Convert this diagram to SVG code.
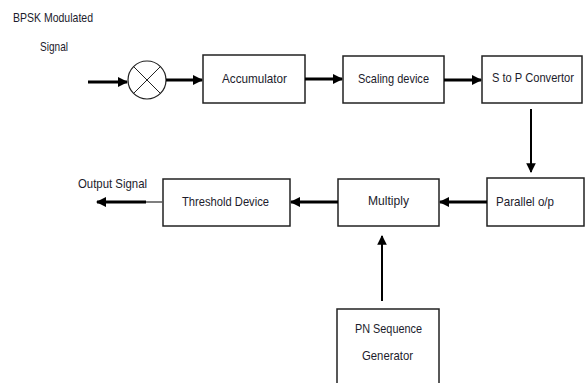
<svg xmlns="http://www.w3.org/2000/svg" width="586" height="383" viewBox="0 0 586 383">
  <defs>
    <marker id="ah" viewBox="0 0 10 10" refX="9" refY="5" markerWidth="3.4" markerHeight="3.4" markerUnits="strokeWidth" orient="auto">
      <path d="M0,0 L10,5 L0,10 Z" fill="#000"/>
    </marker>
    <marker id="ahv" viewBox="0 0 10 10" refX="9" refY="5" markerWidth="4.8" markerHeight="4.8" markerUnits="strokeWidth" orient="auto">
      <path d="M0,0 L10,5 L0,10 Z" fill="#000"/>
    </marker>
    <style>
      .box { fill: #fff; stroke: #222; stroke-width: 1.5; }
      .lbl { font-family: "Liberation Sans", Arial, sans-serif; font-size: 13px; fill: #1c1c2c; text-anchor: middle; }
      .sm { font-size: 12px; }
      .wire { stroke: #000; stroke-width: 3; fill: none; }
      .vwire { stroke: #000; stroke-width: 2; fill: none; }
    </style>
  </defs>
  <rect width="586" height="383" fill="#fff"/>

  <!-- input label -->
  <g id="input-label">
    <text class="lbl" x="53" y="22" textLength="80" lengthAdjust="spacingAndGlyphs">BPSK Modulated</text>
    <text class="lbl" x="54" y="51" textLength="28" lengthAdjust="spacingAndGlyphs">Signal</text>
  </g>

  <!-- mixer -->
  <g id="mixer">
    <circle cx="147" cy="80" r="19" fill="#fff" stroke="#222" stroke-width="1.2"/>
    <line x1="133.6" y1="66.6" x2="160.4" y2="93.4" stroke="#222" stroke-width="1"/>
    <line x1="160.4" y1="66.6" x2="133.6" y2="93.4" stroke="#222" stroke-width="1"/>
  </g>

  <g id="accumulator">
    <rect class="box" x="203" y="55" width="102" height="48"/>
    <text class="lbl" x="254.5" y="83" textLength="65" lengthAdjust="spacingAndGlyphs">Accumulator</text>
  </g>

  <g id="scaling">
    <rect class="box" x="343" y="56" width="101" height="47"/>
    <text class="lbl" x="393.5" y="83" textLength="71" lengthAdjust="spacingAndGlyphs">Scaling device</text>
  </g>

  <g id="s-to-p">
    <rect class="box" x="482" y="56" width="100" height="47"/>
    <text class="lbl sm" x="533" y="82" textLength="82" lengthAdjust="spacingAndGlyphs">S to P Convertor</text>
  </g>

  <g id="parallel">
    <rect class="box" x="487" y="178" width="97" height="48"/>
    <text class="lbl" x="525" y="206" textLength="58" lengthAdjust="spacingAndGlyphs">Parallel o/p</text>
  </g>

  <g id="multiply">
    <rect class="box" x="338" y="179" width="101" height="47"/>
    <text class="lbl" x="388.5" y="205" textLength="41" lengthAdjust="spacingAndGlyphs">Multiply</text>
  </g>

  <g id="threshold">
    <rect class="box" x="163" y="179" width="127" height="47"/>
    <text class="lbl" x="225.5" y="206" textLength="87" lengthAdjust="spacingAndGlyphs">Threshold Device</text>
  </g>

  <g id="pn-generator">
    <rect class="box" x="337" y="309" width="102" height="80"/>
    <text class="lbl" x="388.5" y="333" textLength="67" lengthAdjust="spacingAndGlyphs">PN Sequence</text>
    <text class="lbl" x="387.5" y="360" textLength="51" lengthAdjust="spacingAndGlyphs">Generator</text>
  </g>

  <g id="output-label">
    <text class="lbl" x="112.5" y="188" textLength="69" lengthAdjust="spacingAndGlyphs">Output Signal</text>
  </g>

  <!-- connectors -->
  <g id="connectors">
    <line class="wire" x1="88" y1="82" x2="127" y2="82" marker-end="url(#ah)"/>
    <line class="wire" x1="166" y1="80" x2="202" y2="80" marker-end="url(#ah)"/>
    <line class="wire" x1="305" y1="79" x2="342" y2="79" marker-end="url(#ah)"/>
    <line class="wire" x1="444" y1="80" x2="481" y2="80" marker-end="url(#ah)"/>
    <line class="vwire" x1="531" y1="109" x2="531" y2="172" marker-end="url(#ahv)"/>
    <line class="wire" x1="487" y1="202" x2="440" y2="202" marker-end="url(#ah)"/>
    <line class="wire" x1="338" y1="202" x2="291" y2="202" marker-end="url(#ah)"/>
    <line x1="163" y1="202" x2="146" y2="202" stroke="#555" stroke-width="1.5"/>
    <line class="wire" x1="146" y1="202" x2="97" y2="202" marker-end="url(#ah)"/>
    <line class="vwire" x1="382" y1="301" x2="382" y2="236" marker-end="url(#ahv)"/>
  </g>
</svg>
